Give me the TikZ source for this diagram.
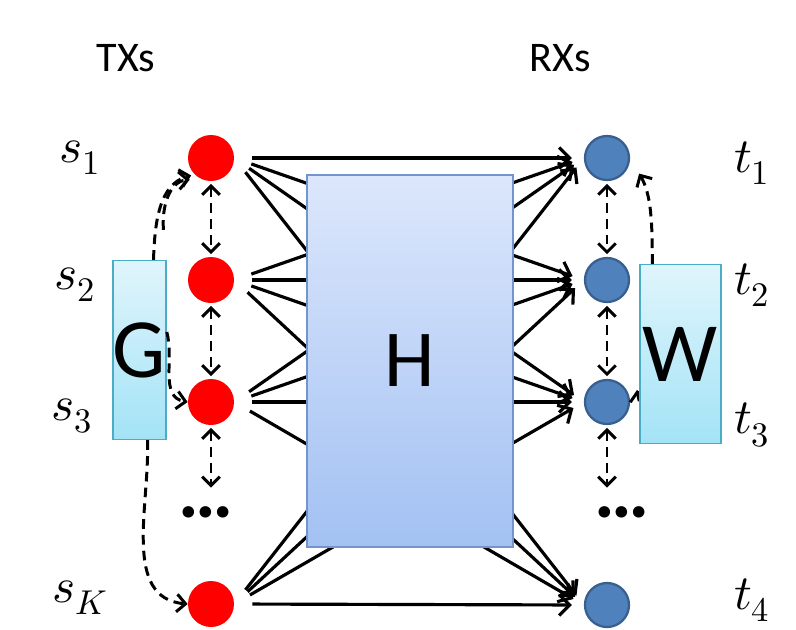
\documentclass[tikz,border=0pt]{standalone}
\usepackage{fontspec}
\usepackage{unicode-math}
\setmathfont{Latin Modern Math}
\newfontfamily\calib{Carlito}
\usetikzlibrary{positioning, arrows.meta, calc}
\definecolor{txred}{HTML}{FF0000}
\definecolor{rxblue}{HTML}{4F81BD}
\definecolor{rxedge}{HTML}{3A5F8F}
\definecolor{htop}{HTML}{DCE7FB}
\definecolor{hbottom}{HTML}{A3C1F3}
\definecolor{hedge}{HTML}{7395CB}
\definecolor{gtop}{HTML}{E0F5FC}
\definecolor{gbottom}{HTML}{A3E3F6}
\definecolor{gedge}{HTML}{4BACC6}

\begin{document}
\begin{tikzpicture}[
    % one unit = one pixel of the 796x630 picture, y pointing down
    x=0.02cm, y=-0.02cm,
    % transmitters (red) and receivers (blue)
    txnode/.style={
        circle,
        fill=txred,
        minimum size=0.92cm,
        inner sep=0pt
    },
    rxnode/.style={
        circle,
        fill=rxblue,
        draw=rxedge,
        line width=1.3pt,
        minimum size=0.88cm,
        inner sep=0pt
    },
    % the channel box H
    chanbox/.style={
        rectangle,
        draw=hedge,
        line width=0.8pt,
        top color=htop,
        bottom color=hbottom,
        minimum width=4.12cm,
        minimum height=7.44cm,
        inner sep=0pt,
        font=\calib\fontsize{46}{50}\selectfont
    },
    % the small boxes G and W
    precbox/.style={
        rectangle,
        draw=gedge,
        line width=0.8pt,
        top color=gtop,
        bottom color=gbottom,
        minimum height=3.58cm,
        inner sep=0pt,
        font=\calib\fontsize{48}{52}\selectfont
    },
    % solid links through the channel
    link/.style={
        -{Straight Barb[length=6pt, width=12pt]},
        line width=1.8pt,
        shorten <=0.36cm,
        shorten >=0.24cm
    },
    % dashed arrows
    dashlink/.style={
        -{Straight Barb[length=5pt, width=10pt]},
        line width=1.7pt,
        dash pattern=on 5.5pt off 3.5pt
    },
    twoway/.style={
        dashlink,
        {Straight Barb[length=5pt, width=10pt]}-{Straight Barb[length=5pt, width=10pt]},
        shorten <=1.5pt,
        shorten >=1.5pt
    },
    symtext/.style={font=\fontsize{28}{32}\selectfont},
    headtext/.style={font=\calib\fontsize{24}{28}\selectfont},
    dotstext/.style={font=\calib\bfseries\fontsize{44}{48}\selectfont, inner sep=0pt}
]
\useasboundingbox (0,0) rectangle (796,630);

% ==============================
% Headings
% ==============================
\node[headtext] (txs) at (126,58) {TXs};
\node[headtext] (rxs) at (560,58) {RXs};

% ==============================
% Transmitters and receivers
% ==============================
\node[txnode] (tx1) at (211,158) {};
\node[txnode] (tx2) at (211,280) {};
\node[txnode] (tx3) at (211,402) {};
\node[txnode] (tx4) at (211,604) {};
\node[dotstext] (txdots) at (206,512) {…};

\node[rxnode] (rx1) at (607,158) {};
\node[rxnode] (rx2) at (607,280) {};
\node[rxnode] (rx3) at (607,402) {};
\node[rxnode] (rx4) at (607,605) {};
\node[dotstext] (rxdots) at (622,512) {…};

% symbol labels
\node[symtext] (s1) at (80,158) {$s_1$};
\node[symtext] (s2) at (75,285) {$s_2$};
\node[symtext] (s3) at (72,416) {$s_3$};
\node[symtext] (sK) at (80,598) {$s_K$};
\node[symtext] (t1) at (752,163) {$t_1$};
\node[symtext] (t2) at (752,285) {$t_2$};
\node[symtext] (t3) at (752,425) {$t_3$};
\node[symtext] (t4) at (752,600) {$t_4$};

% ==============================
% Links (drawn below the channel box)
% ==============================
\foreach \i in {1,...,4}
    \foreach \j in {1,...,4}
        \draw[link] (tx\i.east) -- (rx\j.west);

\node[chanbox] (H) at (410,361) {H};

% ==============================
% Neighbour exchange
% ==============================
\draw[twoway] (tx1.south) -- (tx2.north);
\draw[twoway] (tx2.south) -- (tx3.north);
\draw[twoway] (tx3.south) -- ([yshift=9pt]tx3.south |- txdots.north);
\draw[twoway] (rx1.south) -- (rx2.north);
\draw[twoway] (rx2.south) -- (rx3.north);
\draw[twoway] (rx3.south) -- ([yshift=9pt]rx3.south |- rxdots.north);

% ==============================
% Precoder G and receive filter W
% ==============================
% hidden start of the W arrow to the third receiver
\coordinate (wfoot) at (652,430);
\coordinate (wtip) at (637,390);
\draw[dashlink] (wfoot) to[out=120, in=-80] (wtip);

\node[precbox, minimum width=1.06cm] (G) at (139.5,350) {G};
\node[precbox, minimum width=1.62cm] (W) at (680.5,354) {W};

\draw[dashlink, shorten >=2pt] ($(G.north)+(14,0)$) to[out=88, in=195] (tx1.south west);
\draw[dashlink, shorten >=1pt] ($(G.north)+(24,-30)$) to[out=95, in=185] ($(tx1.south west)+(-3,5)$);
\draw[dashlink] ($(G.east)+(0,-18)$) to[out=-75, in=170] (tx3.west);
\draw[dashlink] ($(G.south)+(8,0)$) to[out=-88, in=175] (tx4.west);

\draw[dashlink, shorten >=0.36cm] ($(W.north west)+(13,0)$) to[out=90, in=-60] (rx1.east);

\end{tikzpicture}
\end{document}
